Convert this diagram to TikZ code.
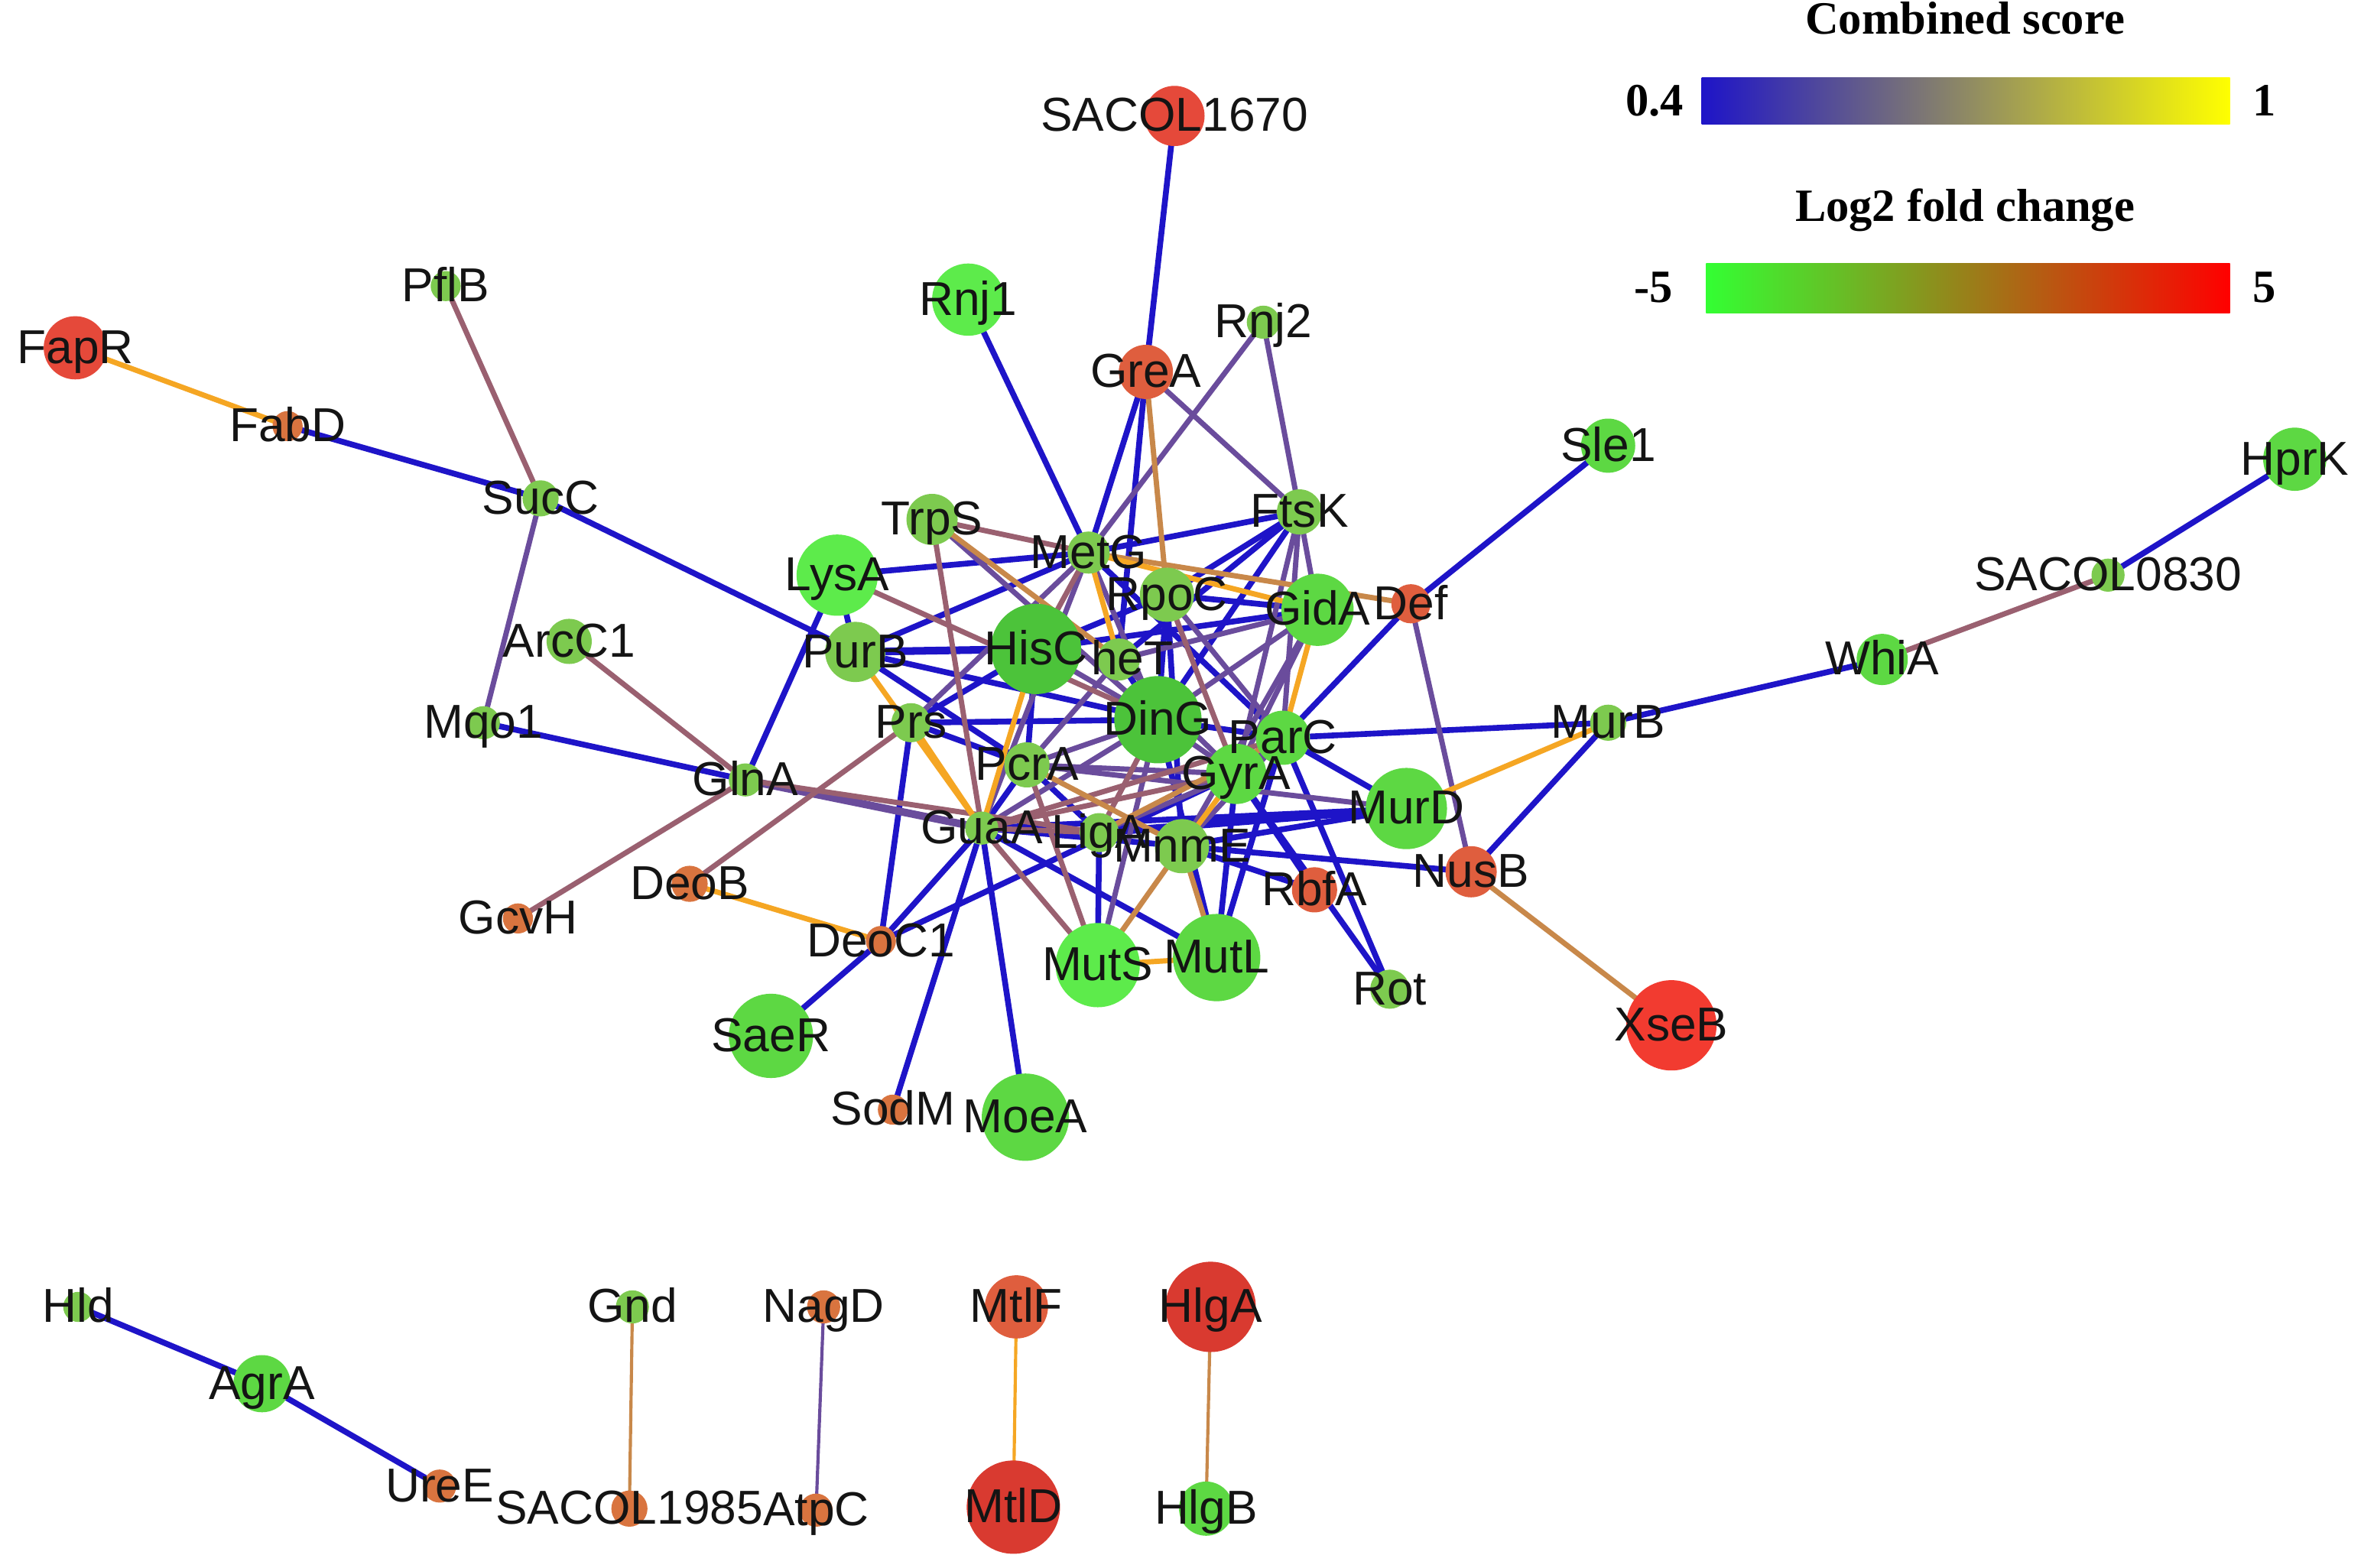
\documentclass[tikz,border=0pt]{standalone}
\usepackage{fontspec}
\setmainfont{Liberation Sans}
\newfontfamily\legfont{Liberation Serif}
\pgfdeclarelayer{edgelayer}
\pgfdeclarelayer{labellayer}
\pgfsetlayers{edgelayer,main,labellayer}
\definecolor{cGB}{HTML}{5DEB4B}
\definecolor{cG}{HTML}{5DD843}
\definecolor{cGD}{HTML}{4CC33A}
\definecolor{cGO}{HTML}{7DCA4F}
\definecolor{cR}{HTML}{F23B30}
\definecolor{cRt}{HTML}{E5493A}
\definecolor{cRO}{HTML}{DF5E3E}
\definecolor{cDR}{HTML}{D93A30}
\definecolor{cOB}{HTML}{D9743F}
\definecolor{eBc}{HTML}{1E14C8}
\definecolor{ePc}{HTML}{6A4C9C}
\definecolor{eMc}{HTML}{9A6070}
\definecolor{eTc}{HTML}{C8884A}
\definecolor{eOc}{HTML}{F5A623}
\begin{document}
\begin{tikzpicture}[x=0.02cm,y=-0.02cm,
  nd/.style={circle,inner sep=0pt,draw=none},
  lbl/.style={inner sep=0pt,text height=0.72em,text depth=0pt,font=\fontsize{18}{20}\selectfont,text=black!92,yshift=-0.08cm},
  leg/.style={inner sep=0pt,text height=0.66em,text depth=0pt,font=\legfont\bfseries\fontsize{17.5}{20}\selectfont},
  bar/.style={inner sep=0pt,draw=none,minimum height=0.62cm},
  eB/.style={draw=eBc,line width=2.2pt},
  eP/.style={draw=ePc,line width=2pt},
  eM/.style={draw=eMc,line width=2pt},
  eT/.style={draw=eTc,line width=2pt},
  eO/.style={draw=eOc,line width=2pt},
  thick edge/.style={line width=2.9pt},
  thin edge/.style={line width=1.2pt}]
\useasboundingbox (0,0) rectangle (1568,1041.4);

% ---------- nodes ----------
\foreach \n/\x/\y/\r/\c in {
  SACOL1670/780/77/20/cRt, FapR/50/231/21/cRt, FabD/191/283/10/cOB,
  PflB/296/190/10/cGO, SucC/359/331/12/cGO, Rnj1/643/199/24/cGB,
  GreA/761/247/18/cRO, Rnj2/839/214/11/cGO, Sle1/1068/296/18/cG,
  HprK/1524/305/21/cG, SACOL0830/1400/382/11/cGO, WhiA/1250/438/17/cG,
  TrpS/619/345/17/cGO, MetG/723/367/14/cGO, FtsK/863/340/15/cGO,
  LysA/556/382/27/cGB, RpoC/775/395/18/cGO, GidA/875/405/24/cG,
  Def/937/401/13/cRO, ArcC1/378/426/15/cGO, PurB/568/433/20/cGO,
  PheT/743/438/14/cGO, HisC/688/431/30/cGD, DinG/769/478/29/cGD,
  GyrA/821/514/20/cG, ParC/852/490/18/cG, Prs/605/480/13/cGO,
  PcrA/682/508/15/cGO, Mqo1/321/480/11/cGO, GlnA/495/518/11/cGO,
  MurB/1068/480/12/cGO, MurD/934/537/27/cG, GuaA/652/550/11/cGO,
  LigA/730/553/13/cGO, MnmE/785/562/18/cGO, RbfA/873/591/15/cRO,
  NusB/977/579/17/cRO, DeoB/458/587/12/cOB, GcvH/344/610/10/cOB,
  DeoC1/585/625/10/cOB, MutS/729/641/28/cGB, MutL/808/636/29/cG,
  Rot/923/657/13/cGO, XseB/1110/681/30/cR, SaeR/512/688/28/cG,
  SodM/593/737/10/cOB, MoeA/681/742/29/cG,
  Hld/52/868/10/cGO, AgrA/174/919/19/cG, UreE/292/987/11/cOB,
  Gnd/420/868/11/cGO, SACOL1985/418/1002/12/cOB, NagD/547/868/11/cOB,
  AtpC/542/1003/11/cOB, MtlF/675/868/21/cRO, MtlD/673/1001/31/cDR,
  HlgA/804/868/30/cDR, HlgB/801/1002/18/cG}
  \node[nd,fill=\c,minimum size=\r*0.04cm] (\n) at (\x,\y) {};

% ---------- edges ----------
\begin{pgfonlayer}{edgelayer}
\foreach \a/\b in {
  SACOL1670/GreA, GreA/MetG, GreA/PheT, Rnj1/MetG, FabD/SucC, SucC/PurB,
  Mqo1/GlnA, LysA/GlnA, LysA/MetG, LysA/PurB, PurB/MetG, PurB/PcrA,
  PurB/DinG, Prs/HisC, Prs/DinG, Prs/PcrA, Prs/DeoC1, HisC/RpoC, HisC/GidA,
  MetG/FtsK, MetG/ParC, RpoC/GidA, RpoC/FtsK, RpoC/DinG, RpoC/MnmE,
  PheT/DinG, FtsK/DinG, FtsK/PheT, DinG/ParC, DinG/MutL, ParC/MurD,
  ParC/Rot, ParC/Def, ParC/MurB, ParC/MutL, GyrA/RbfA, GyrA/Rot, GyrA/MutL,
  PcrA/GuaA, PcrA/LigA, GuaA/MnmE, GuaA/MurD, GuaA/MutL, GuaA/DeoC1,
  GuaA/SodM, GuaA/MoeA, LigA/MutS, DeoC1/GyrA, DeoC1/SaeR, MnmE/MurD,
  MnmE/NusB, MnmE/RbfA, Sle1/Def, HprK/SACOL0830, WhiA/MurB, MurB/NusB,
  Hld/AgrA, AgrA/UreE, HisC/PcrA}
  \draw[eB] (\a.center) -- (\b.center);
\foreach \a/\b in {PurB/HisC, LigA/MurD}
  \draw[eB,thick edge] (\a.center) -- (\b.center);
\foreach \a/\b in {
  GreA/FtsK, Rnj2/MetG, Rnj2/FtsK, SucC/Mqo1, Prs/MetG, HisC/DinG,
  MetG/DinG, MetG/GuaA, RpoC/ParC, PheT/GyrA, PheT/GidA, PheT/PcrA,
  FtsK/GidA, FtsK/ParC, FtsK/GyrA, GidA/GyrA, GidA/DinG, GidA/MnmE,
  DinG/GyrA, DinG/PcrA, DinG/GuaA, DinG/MutS, ParC/GyrA, ParC/MnmE,
  GyrA/LigA, GyrA/PcrA, PcrA/MurD, Def/NusB, TrpS/DinG}
  \draw[eP] (\a.center) -- (\b.center);
\draw[eP,thick edge] (GlnA.center) -- (GuaA.center);
\draw[eP,thin edge] (NagD.center) -- (AtpC.center);
\foreach \a/\b in {
  PflB/SucC, ArcC1/GlnA, GlnA/GcvH, Prs/DeoB, TrpS/MetG, TrpS/GuaA,
  LysA/DinG, HisC/MetG, RpoC/GyrA, DinG/LigA, ParC/GuaA, GyrA/GuaA,
  GuaA/LigA, GuaA/MutS, PcrA/MutS, GlnA/LigA, SACOL0830/WhiA}
  \draw[eM] (\a.center) -- (\b.center);
\foreach \a/\b in {
  GreA/RpoC, MetG/Def, ParC/LigA, PcrA/MnmE, MnmE/MutS, MnmE/MutL,
  NusB/XseB, TrpS/PheT}
  \draw[eT] (\a.center) -- (\b.center);
\foreach \a/\b in {Gnd/SACOL1985, HlgA/HlgB}
  \draw[eT,thin edge] (\a.center) -- (\b.center);
\foreach \a/\b in {
  FapR/FabD, DeoB/DeoC1, MutS/MutL, MurB/MurD, PurB/GuaA, Prs/GuaA,
  HisC/GuaA, MetG/PheT, MetG/GidA, GidA/ParC, GyrA/MnmE}
  \draw[eO] (\a.center) -- (\b.center);
\draw[eO,thin edge] (MtlF.center) -- (MtlD.center);
\end{pgfonlayer}

% ---------- labels ----------
\begin{pgfonlayer}{labellayer}
\foreach \n in {
  SACOL1670, FapR, FabD, PflB, SucC, Rnj1, GreA, Rnj2, Sle1, HprK,
  SACOL0830, WhiA, TrpS, MetG, FtsK, LysA, RpoC, GidA, Def, ArcC1, PurB,
  HisC, DinG, GyrA, ParC, Prs, PcrA, Mqo1, GlnA, MurB, MurD, GuaA, LigA,
  MnmE, RbfA, NusB, DeoB, GcvH, DeoC1, MutS, MutL, Rot, XseB, SaeR, SodM,
  MoeA, Hld, AgrA, UreE, Gnd, SACOL1985, NagD, AtpC, MtlF, MtlD, HlgA, HlgB}
  \node[lbl] (l\n) at (\n) {\n};
\node[lbl] (lPheT) at ([xshift=0.18cm]PheT.center) {heT};
\end{pgfonlayer}

% ---------- legend ----------
\node[leg] (legA) at (1305,17) {Combined score};
\node[bar,minimum width=7.02cm,left color=eBc!100!blue,middle color={rgb,255:red,118;green,112;blue,110},right color={rgb,255:red,255;green,255;blue,0}] (barA) at (1305.5,67) {};
\node[leg] (legA0) at (1099,71) {0.4};
\node[leg] (legA1) at (1504,71) {1};
\node[leg] (legB) at (1305,141) {Log2 fold change};
\node[bar,minimum width=6.96cm,minimum height=0.66cm,left color={rgb,255:red,51;green,255;blue,51},middle color={rgb,255:red,150;green,120;blue,26},right color={rgb,255:red,255;green,0;blue,0}] (barB) at (1307,191.5) {};
\node[leg] (legB0) at (1098,195) {-5};
\node[leg] (legB1) at (1504,195) {5};
\end{tikzpicture}
\end{document}
